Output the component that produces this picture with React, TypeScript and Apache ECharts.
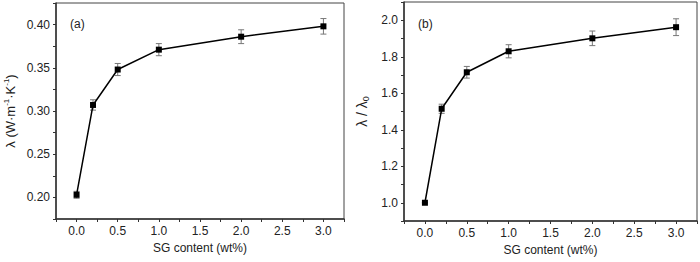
import React, { useEffect, useRef } from "react";
import * as echarts from "echarts";

const sgContent = [0.0, 0.2, 0.5, 1.0, 2.0, 3.0];
const conductivity = [0.203, 0.307, 0.348, 0.371, 0.386, 0.398];
const conductivityErr = [0.004, 0.006, 0.007, 0.007, 0.008, 0.009];
const ratio = [1.0, 1.515, 1.715, 1.83, 1.901, 1.962];
const ratioErr = [0.0, 0.025, 0.032, 0.036, 0.04, 0.046];

const FONT = "'Liberation Sans', Arial, sans-serif";
const TEXT = "#222";
const AXIS = "#333";

const isMult = (v: number, step: number) =>
  Math.abs(v / step - Math.round(v / step)) < 1e-6;

const errRender = (params: any, api: any) => {
  const x = api.value(0);
  const y = api.value(1);
  const e = api.value(2);
  const top = api.coord([x, y + e]);
  const bot = api.coord([x, y - e]);
  const w = 3;
  const style = { stroke: "#777", lineWidth: 1 };
  return {
    type: "group",
    children: [
      { type: "line", shape: { x1: top[0], y1: top[1], x2: bot[0], y2: bot[1] }, style },
      { type: "line", shape: { x1: top[0] - w, y1: top[1], x2: top[0] + w, y2: top[1] }, style },
      { type: "line", shape: { x1: bot[0] - w, y1: bot[1], x2: bot[0] + w, y2: bot[1] }, style },
    ],
  };
};

export default function App() {
  const ref = useRef<HTMLDivElement>(null);
  useEffect(() => {
    if (!ref.current) return;
    const chart = echarts.init(ref.current, undefined, { renderer: "svg" });

    const xAxisBase = (gridIndex: number) => ({
      type: "value",
      gridIndex,
      min: -0.25,
      max: 3.25,
      interval: 0.25,
      name: "SG content (wt%)",
      nameLocation: "middle",
      nameGap: 22,
      nameTextStyle: { fontSize: 12, color: TEXT, fontFamily: FONT },
      axisLine: { show: true, onZero: false, lineStyle: { color: AXIS, width: 1.5 } },
      axisTick: { show: true, inside: false, length: 3, lineStyle: { color: AXIS, width: 1 } },
      axisLabel: {
        interval: 0,
        margin: 6,
        fontSize: 12,
        color: TEXT,
        fontFamily: FONT,
        formatter: (v: number) => (isMult(v, 0.5) ? v.toFixed(1) : ""),
      },
      splitLine: { show: false },
    });

    const supRich = {
      a: { fontSize: 13, color: TEXT, fontFamily: FONT, lineHeight: 16 },
      s: { fontSize: 8, color: TEXT, fontFamily: FONT, verticalAlign: "top", lineHeight: 16 },
      b: { fontSize: 9, color: TEXT, fontFamily: FONT, verticalAlign: "bottom", lineHeight: 16 },
    };

    chart.setOption({
      animation: false,
      grid: [
        { left: 56, top: 3, width: 288, bottom: 43, show: true, borderColor: "#444", borderWidth: 1 },
        { left: 404, top: 2, width: 294, bottom: 41, show: true, borderColor: "#444", borderWidth: 1 },
      ],
      xAxis: [xAxisBase(0), xAxisBase(1)],
      yAxis: [
        {
          type: "value",
          gridIndex: 0,
          min: 0.175,
          max: 0.425,
          interval: 0.025,
          name: "{a|λ (W·m}{s|-1}{a|·K}{s|-1}{a|)}",
          nameLocation: "middle",
          nameGap: 38,
          nameTextStyle: { rich: supRich },
          axisLine: { show: true, onZero: false, lineStyle: { color: AXIS, width: 1.5 } },
          axisTick: { show: true, inside: false, length: 3, lineStyle: { color: AXIS, width: 1 } },
          axisLabel: {
            interval: 0,
            margin: 6,
            fontSize: 12,
            color: TEXT,
            fontFamily: FONT,
            formatter: (v: number) => (isMult(v, 0.05) ? v.toFixed(2) : ""),
          },
          splitLine: { show: false },
        },
        {
          type: "value",
          gridIndex: 1,
          min: 0.9,
          max: 2.1,
          interval: 0.1,
          name: "{a|λ / λ}{b|0}",
          nameLocation: "middle",
          nameGap: 34,
          nameTextStyle: { rich: { ...supRich, a: { ...supRich.a, fontSize: 14 } } },
          axisLine: { show: true, onZero: false, lineStyle: { color: AXIS, width: 1.5 } },
          axisTick: { show: true, inside: false, length: 3, lineStyle: { color: AXIS, width: 1 } },
          axisLabel: {
            interval: 0,
            margin: 6,
            fontSize: 12,
            color: TEXT,
            fontFamily: FONT,
            formatter: (v: number) => (isMult(v, 0.2) ? v.toFixed(1) : ""),
          },
          splitLine: { show: false },
        },
      ],
      graphic: [
        { type: "text", left: 70, top: 18, style: { text: "(a)", fontSize: 12, fill: TEXT, fontFamily: FONT } },
        { type: "text", left: 418, top: 18, style: { text: "(b)", fontSize: 12, fill: TEXT, fontFamily: FONT } },
      ],
      series: [
        {
          type: "custom",
          xAxisIndex: 0,
          yAxisIndex: 0,
          renderItem: errRender,
          encode: { x: 0, y: 1 },
          data: sgContent.map((x, i) => [x, conductivity[i], conductivityErr[i]]),
          z: 1,
        },
        {
          type: "line",
          xAxisIndex: 0,
          yAxisIndex: 0,
          data: sgContent.map((x, i) => [x, conductivity[i]]),
          symbol: "rect",
          symbolSize: 6,
          itemStyle: { color: "#000" },
          lineStyle: { color: "#000", width: 1.5 },
          z: 2,
        },
        {
          type: "custom",
          xAxisIndex: 1,
          yAxisIndex: 1,
          renderItem: errRender,
          encode: { x: 0, y: 1 },
          data: sgContent.map((x, i) => [x, ratio[i], ratioErr[i]]),
          z: 1,
        },
        {
          type: "line",
          xAxisIndex: 1,
          yAxisIndex: 1,
          data: sgContent.map((x, i) => [x, ratio[i]]),
          symbol: "rect",
          symbolSize: 6,
          itemStyle: { color: "#000" },
          lineStyle: { color: "#000", width: 1.5 },
          z: 2,
        },
      ],
    });
    return () => chart.dispose();
  }, []);
  return (
    <div
      ref={ref}
      style={{ position: "fixed", left: 0, top: 0, width: 700, height: 262, background: "#fff" }}
    />
  );
}
